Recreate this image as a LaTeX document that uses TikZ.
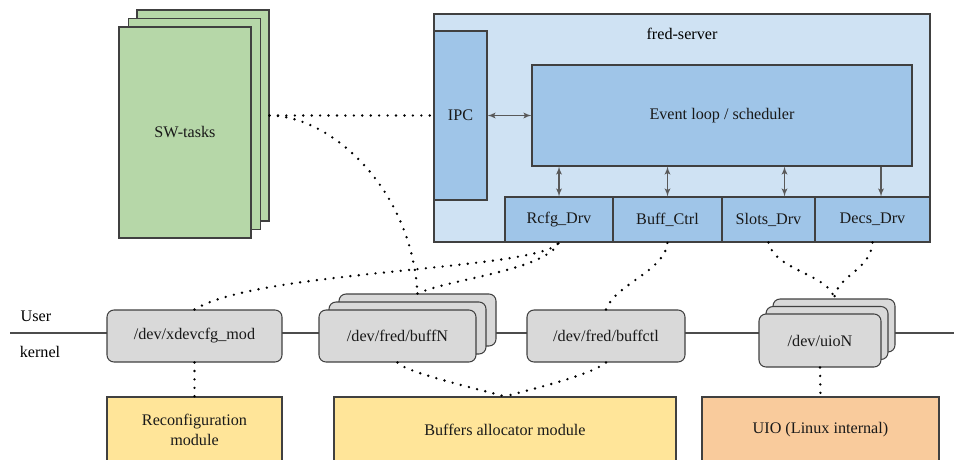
\documentclass[tikz,border=0pt]{standalone}
\usepackage{fontspec}
\setmainfont{Liberation Serif}
\newfontfamily\figfont{Liberation Serif}
\usetikzlibrary{arrows,positioning,calc}
\definecolor{taskgreen}{HTML}{B6D7A8}
\definecolor{srvblue}{HTML}{CFE2F3}
\definecolor{partblue}{HTML}{9FC5E8}
\definecolor{devgrey}{HTML}{D9D9D9}
\definecolor{modyellow}{HTML}{FFE599}
\definecolor{modorange}{HTML}{F9CB9C}
\newcommand{\pxu}{0.02cm}

\begin{document}
\begin{tikzpicture}
[x=0.02cm,y=-0.02cm,
    font=\figfont\fontsize{9.2}{11.3}\selectfont,
    blk/.style={draw=black!75,line width=.6pt,shape=rectangle,inner sep=1mm,text=black!90},
    task/.style={blk,fill=taskgreen,minimum width=132*\pxu,minimum height=211*\pxu},
    srv/.style={blk,fill=srvblue},
    part/.style={blk,fill=partblue},
    drv/.style={part,minimum height=45*\pxu},
    dev/.style={blk,fill=devgrey,rounded corners=4pt,minimum height=52*\pxu},
    kmod/.style={blk,fill=modyellow,minimum height=66*\pxu,align=center},
    link/.style={dash pattern=on 0pt off 4.8pt,line cap=round,line width=1.5pt},
    myedge/.style={>=latex',draw=black!65,line width=.6pt},
    sep/.style={draw=black!70,line width=1.1pt}]
\useasboundingbox (0,0) rectangle (954,460);
\clip (0,0) rectangle (954,460);
%%%%%%%%%%
%% user / kernel split
\coordinate (ul) at (10,333);
\coordinate (ur) at (954,333);
\draw[sep] (ul) -- (ur);
\node (user) at (36,316) {User};
\node (kern) at (40,352) {kernel};
%% tasks
\node (sw3) [task] at (203,115.5) {};
\node (sw2) [task] at (194.5,124) {};
\node (sw1) [task] at (185,132.5) {SW-tasks};
%% server
\node (srv) [srv,minimum width=496*\pxu,minimum height=228*\pxu] at (682,128) {};
\node (srvlbl) at (682,34) {fred-server};
\node (ipc) [part,minimum width=53*\pxu,minimum height=169*\pxu] at (460.5,115.5) {IPC};
\node (loop) [part,minimum width=380*\pxu,minimum height=101*\pxu] at (722,115.5) {Event loop / scheduler};
\node (rcfg) [drv,minimum width=108*\pxu] at (559,219.5) {Rcfg\_Drv};
\node (bctrl) [drv,minimum width=109*\pxu] at (667.5,219.5) {Buff\_Ctrl};
\node (slots) [drv,minimum width=93*\pxu] at (768.5,219.5) {Slots\_Drv};
\node (decs) [drv,minimum width=115*\pxu] at (872.5,219.5) {Decs\_Drv};
%% server arrows
\coordinate (sa) at ([xshift=16*\pxu]slots.north);
\coordinate (da) at ([xshift=8.5*\pxu]decs.north);
\draw[myedge,<->] (ipc.east) -- (loop.west);
\draw[myedge,<->] (rcfg.north) -- (rcfg.north |- loop.south);
\draw[myedge,<->] (bctrl.north) -- (bctrl.north |- loop.south);
\draw[myedge,<->] (sa) -- (sa |- loop.south);
\draw[myedge,->] (da |- loop.south) -- (da);
%% devices
\node (xdev) [dev,minimum width=175*\pxu] at (194.5,336) {/dev/xdevcfg\_mod};
\node (buf3) [dev,minimum width=157*\pxu] at (417.5,320) {};
\node (buf2) [dev,minimum width=157*\pxu] at (407.5,328) {};
\node (buf1) [dev,minimum width=157*\pxu] at (397.5,336) {/dev/fred/buffN};
\node (bfctl) [dev,minimum width=158*\pxu] at (606,336) {/dev/fred/buffctl};
\node (uio3) [dev,minimum width=122*\pxu,minimum height=53*\pxu] at (834,325.5) {};
\node (uio2) [dev,minimum width=122*\pxu,minimum height=53*\pxu] at (827,333) {};
\node (uio1) [dev,minimum width=122*\pxu,minimum height=53*\pxu] at (820,340.5) {/dev/uioN};
%% kernel modules
\node (rmod) [kmod,minimum width=175*\pxu] at (194.5,430) {Reconfiguration\\module};
\node (amod) [kmod,minimum width=342*\pxu] at (505,430) {Buffers allocator module};
\node (umod) [kmod,fill=modorange,minimum width=237*\pxu] at (820.5,430) {UIO (Linux internal)};
%% dotted links
\draw[link] (sw3.east) -- (ipc.west);
\draw[link] (sw3.east) .. controls +(61,0) and +(-6,-105) .. (buf3.north);
\draw[link] (xdev.north) .. controls +(65,-40) and +(-19,28) .. (rcfg.south);
\draw[link] (buf3.north) .. controls +(34,-15) and +(-14,28) .. (rcfg.south);
\draw[link] (bfctl.north) .. controls +(9,-25) and +(-2,28) .. (bctrl.south);
\draw[link] (slots.south) .. controls +(6,28) and +(-4,-24) .. (uio3.north);
\draw[link] (decs.south) .. controls +(-2,28) and +(4,-24) .. (uio3.north);
\draw[link] (xdev.south) -- (rmod.north);
\draw[link] (uio1.south) -- (umod.north);
\draw[link] (buf1.south) .. controls +(8,10) and +(-25,-7) .. (amod.north);
\draw[link] (bfctl.south) .. controls +(-16,13) and +(25,-7) .. (amod.north);
\end{tikzpicture}
\end{document}
